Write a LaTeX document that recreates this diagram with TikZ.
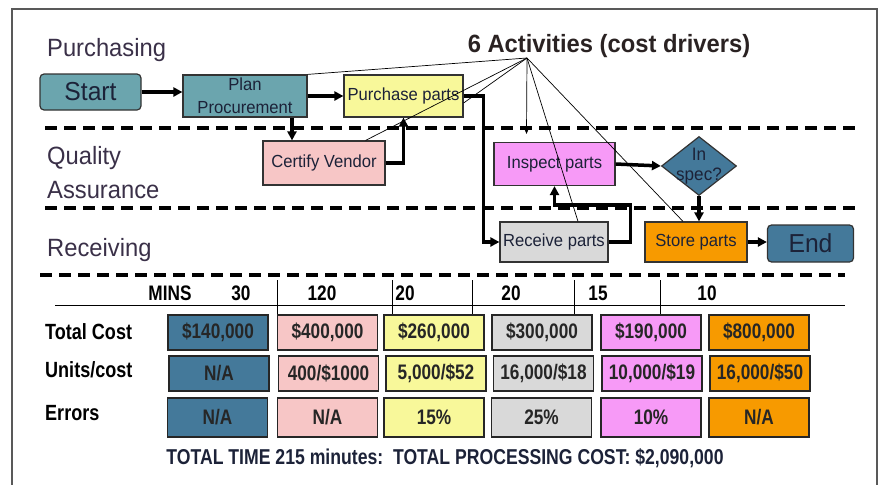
\documentclass[tikz,border=0pt]{standalone}
\usepackage{fontspec}
\setmainfont[FakeStretch=0.95]{Liberation Sans}
\newfontfamily\narrowfont[FakeStretch=0.82]{Liberation Sans}
\usepackage{xcolor}
\usetikzlibrary{arrows.meta}
\usetikzlibrary{shapes.geometric}
\usetikzlibrary{calc}

\definecolor{procteal}{HTML}{6BA5AE}
\definecolor{steelblue}{HTML}{44799A}
\definecolor{partyellow}{HTML}{F8F89A}
\definecolor{vendorpink}{HTML}{F7C6C6}
\definecolor{inspectpink}{HTML}{F79AF7}
\definecolor{receivegray}{HTML}{D9D9D9}
\definecolor{storeorange}{HTML}{F79A00}
\definecolor{boxtext}{HTML}{1C2238}
\definecolor{lanetext}{HTML}{3A3048}
\definecolor{titletext}{HTML}{2A2222}

\begin{document}
\begin{tikzpicture}[x=1pt, y=-1pt,
      box/.style={draw=black!80, line width=1.2, inner sep=0.5, text=boxtext,
        align=center, font=\fontsize{17.5}{23}\selectfont},
      flow/.style={line width=3.5, -{Triangle[length=9,width=9]}},
      driver/.style={line width=0.7},
      lane/.style={anchor=west, inner sep=0, text=lanetext, font=\fontsize{25}{34}\selectfont},
      divider/.style={line width=4, dash pattern=on 12 off 7},
      cell/.style={draw=black!85, line width=1.5, minimum width=100, minimum height=35,
        inner sep=0, text=black!85, font=\narrowfont\bfseries\fontsize{21}{21}\selectfont},
      rowlabel/.style={anchor=west, inner sep=0, font=\narrowfont\bfseries\fontsize{22}{22}\selectfont},
      mins/.style={inner sep=0, font=\narrowfont\bfseries\fontsize{21}{21}\selectfont}]

      \useasboundingbox (0,0) rectangle (879,485);
      \draw[black!65, line width=1.5] (12,485) -- (12,9) -- (877,9) -- (877,485);

      \draw[divider] (45,128) -- (855,128);
      \draw[divider] (45,208) -- (855,208);
      \draw[divider] (40,275) -- (845,275);

      \node[lane] (purchasing) at (47,50) {Purchasing};
      \node[lane, anchor=north west, align=left] (quality) at (47,146) {Quality\\Assurance};
      \node[lane] (receiving) at (47,250) {Receiving};

      \node[inner sep=0, text=titletext, font=\bfseries\fontsize{25}{27}\selectfont]
        (drivers) at (609,46) {6 Activities (cost drivers)};
      \coordinate (apex) at (527,58);

      \node[box, fill=procteal, rounded corners=4, minimum width=101, minimum height=36,
        font=\fontsize{26}{28}\selectfont] (start) at (90.5,92) {Start};
      \node[box, fill=procteal, minimum width=124, minimum height=42] (plan) at (245,96) {Plan\\Procurement};
      \node[box, fill=partyellow, minimum width=119, minimum height=42] (purchase) at (403.5,96) {Purchase parts};
      \node[box, fill=vendorpink, minimum width=122, minimum height=44] (certify) at (324,163) {Certify Vendor};
      \node[box, fill=inspectpink, minimum width=121, minimum height=43] (inspect) at (554.5,164) {Inspect parts};
      \node[diamond, draw=black!80, line width=1.2, fill=steelblue, minimum width=75, minimum height=59,
        inner sep=0, label={[text=boxtext, align=center, font=\fontsize{18}{20}\selectfont]center:In\\spec?}]
        (spec) at (699,166) {};
      \node[box, fill=receivegray, minimum width=108, minimum height=40] (receive) at (554,242) {Receive parts};
      \node[box, fill=storeorange, minimum width=102, minimum height=40] (store) at (696,242) {Store parts};
      \node[box, fill=steelblue, rounded corners=4, minimum width=86, minimum height=37,
        font=\fontsize{26}{28}\selectfont] (end) at (810.5,243.5) {End};

      \draw[flow] (start.east) -- (start.east -| plan.west);
      \draw[flow] (plan.east) -- (purchase.west);
      \draw[flow] ([xshift=47]plan.south) -- ([xshift=47]plan.south |- certify.north);
      \draw[flow] (certify.east) -| (purchase.south);
      \draw[flow] (purchase.east) -- ++(20,0) |- (receive.west);
      \draw[flow] (receive.east) -- ++(22,0) -- ++(0,-37) -| (inspect.south);
      \draw[flow] (inspect.east) -- (spec.west);
      \draw[flow] (spec.south) -- (spec.south |- store.north);
      \draw[flow] (store.east) -- (store.east -| end.west);

      \draw[driver] (apex) -- (plan.north east);
      \draw[driver] (apex) -- ([xshift=-20]certify.north east);
      \draw[driver] (apex) -- ([yshift=-7]purchase.east);
      \draw[driver, -{Triangle[length=6,width=5]}] (apex) -- ([xshift=-28,yshift=8]inspect.north);
      \draw[driver] (apex) -- ([xshift=24]receive.north);
      \draw[driver] (apex) -- ([xshift=-13]store.north);

      \draw[line width=1] (55,305) -- (845,305);
      \draw[line width=1] (277,280) -- (277,314) (392,280) -- (392,314) (472,280) -- (472,314)
        (574,280) -- (574,314) (660,280) -- (660,314);

      \node[mins] (minslabel) at (170,293) {MINS};
      \node[mins] (time1) at (241,293) {30};
      \node[mins] (time2) at (322,293) {120};
      \node[mins] (time3) at (405,293) {20};
      \node[mins] (time4) at (511,293) {20};
      \node[mins] (time5) at (598,293) {15};
      \node[mins] (time6) at (707,293) {10};

      \node[rowlabel] (costlabel) at (45,332) {Total Cost};
      \node[rowlabel] (unitslabel) at (45,370) {Units/cost};
      \node[rowlabel] (errlabel) at (45,413) {Errors};

      \node[cell, fill=steelblue] (cost1) at (218,332.5) {\$140,000};
      \node[cell, fill=vendorpink] (cost2) at (327.5,332.5) {\$400,000};
      \node[cell, fill=partyellow] (cost3) at (434,332.5) {\$260,000};
      \node[cell, fill=receivegray] (cost4) at (542,332.5) {\$300,000};
      \node[cell, fill=inspectpink] (cost5) at (651,332.5) {\$190,000};
      \node[cell, fill=storeorange] (cost6) at (759,332.5) {\$800,000};

      \node[cell, fill=steelblue] (units1) at (219,373.5) {N/A};
      \node[cell, fill=vendorpink] (units2) at (328.5,373.5) {400/\$1000};
      \node[cell, fill=partyellow] (units3) at (436,373.5) {5,000/\$52};
      \node[cell, fill=receivegray] (units4) at (543.5,373.5) {16,000/\$18};
      \node[cell, fill=inspectpink] (units5) at (652,373.5) {10,000/\$19};
      \node[cell, fill=storeorange] (units6) at (760,373.5) {16,000/\$50};

      \node[cell, fill=steelblue, minimum height=39] (err1) at (217.5,417.5) {N/A};
      \node[cell, fill=vendorpink, minimum height=39] (err2) at (327.5,417.5) {N/A};
      \node[cell, fill=partyellow, minimum height=39] (err3) at (434,417.5) {15\%};
      \node[cell, fill=receivegray, minimum height=39] (err4) at (541.5,417.5) {25\%};
      \node[cell, fill=inspectpink, minimum height=39] (err5) at (651,417.5) {10\%};
      \node[cell, fill=storeorange, minimum height=39] (err6) at (759,417.5) {N/A};

      \node[inner sep=0, text=boxtext, font=\narrowfont\bfseries\fontsize{21.5}{22}\selectfont]
        (total) at (445,458) {TOTAL TIME 215 minutes:\ \ TOTAL PROCESSING COST: \$2,090,000};
\end{tikzpicture}
\end{document}
